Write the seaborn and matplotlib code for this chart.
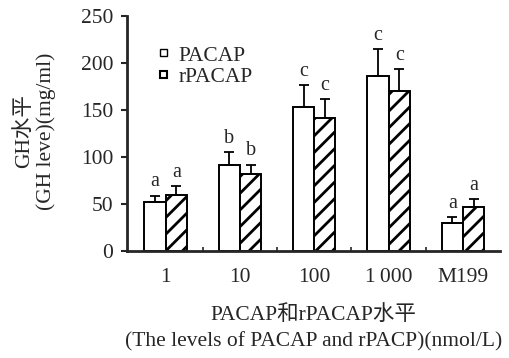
import numpy as np
import pandas as pd
import matplotlib
matplotlib.use("Agg")
import matplotlib.pyplot as plt
import seaborn as sns
from matplotlib.patches import Rectangle

categories = ["1", "10", "100", "1\u2009000", "M199"]
series = ["PACAP", "rPACAP"]
pacap = [52, 92, 153, 186, 30]
pacap_err = [7, 13, 24, 29, 6]
rpacap = [60, 82, 142, 170, 47]
rpacap_err = [9, 10, 20, 24, 8]
pacap_sig = ["a", "b", "c", "c", "a"]
rpacap_sig = ["a", "b", "c", "c", "a"]
yticks = [0, 50, 100, 150, 200, 250]

sns.set_style("ticks")
plt.rcParams["font.family"] = ["Liberation Serif", "Noto Sans CJK SC"]
plt.rcParams["hatch.linewidth"] = 2.0
plt.rcParams["hatch.color"] = "black"

FS = 15.5

df = pd.DataFrame({
    "cat": categories * 2,
    "series": [series[0]] * 5 + [series[1]] * 5,
    "value": pacap + rpacap,
})

fig = plt.figure(figsize=(5.09, 3.58), dpi=100)
ax = fig.add_axes([0.2495, 0.299, 0.733, 0.656])

sns.barplot(data=df, x="cat", y="value", hue="series", order=categories,
            hue_order=series, palette=["white", "white"], edgecolor="black",
            linewidth=1.4, width=0.57, gap=0, errorbar=None, ax=ax, legend=False)

errs = [pacap_err, rpacap_err]
vals = [pacap, rpacap]
sigs = [pacap_sig, rpacap_sig]
bar_conts = list(ax.containers)
for ci, cont in enumerate(bar_conts):
    for bi, bar in enumerate(cont):
        if ci == 1:
            bar.set_hatch("//")
        xc = bar.get_x() + bar.get_width() / 2
        v = vals[ci][bi]
        e = errs[ci][bi]
        ax.errorbar(xc, v, yerr=[[0], [e]], fmt="none", ecolor="black",
                    elinewidth=1.3, capsize=3.5, capthick=1.3)
        ax.annotate(sigs[ci][bi], (xc, v + e), xytext=(0, 3),
                    textcoords="offset points", ha="center", va="bottom",
                    fontsize=14.5)

ax.set_ylim(0, 250)
ax.set_xlim(-0.52, 4.5)
ax.set_yticks(yticks)
ax.set_yticklabels([str(t) for t in yticks], fontsize=FS)
ax.set_xticks(range(len(categories)))
ax.set_xticklabels(categories, fontsize=FS)
ax.tick_params(axis="x", length=0, pad=12)
ax.set_xticks([0.5, 1.5, 2.5, 3.5], minor=True)
ax.tick_params(axis="x", which="minor", direction="in", length=3, width=1.2)
ax.tick_params(axis="y", direction="out", length=4, width=1.5, pad=6)
sns.despine(ax=ax)
ax.spines["left"].set_linewidth(2)
ax.spines["bottom"].set_linewidth(2)

ax.set_xlabel("PACAP和rPACAP水平\n(The levels of PACAP and rPACP)(nmol/L)",
              fontsize=FS, labelpad=13, linespacing=1.5)
ax.set_ylabel("GH水平\n(GH leve)(mg/ml)", fontsize=FS, linespacing=1.15)
ax.yaxis.set_label_coords(-0.19, 0.51)

handles = [Rectangle((0, 0), 1, 1, facecolor="white", edgecolor="black", linewidth=1),
           Rectangle((0, 0), 1, 1, facecolor="white", edgecolor="black", linewidth=1.5)]
ax.legend(handles, series, loc="upper left", bbox_to_anchor=(0.088, 0.87),
          frameon=False, fontsize=FS, handlelength=0.33, handleheight=0.13,
          handletextpad=0.55, labelspacing=0.12, borderaxespad=0, borderpad=0)

fig.savefig("out.png", dpi=100)
